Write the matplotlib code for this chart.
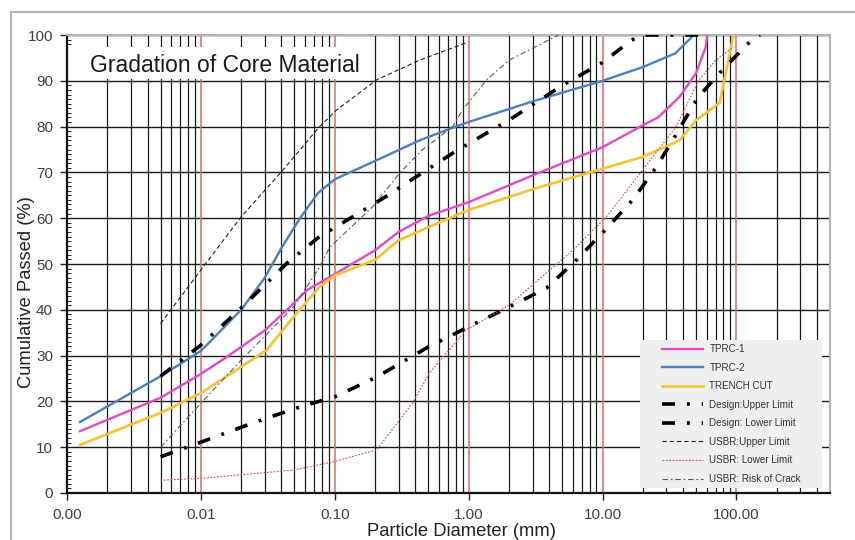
import numpy as np
import matplotlib
matplotlib.use('Agg')
import matplotlib.pyplot as plt
from matplotlib.patches import Rectangle
from matplotlib.ticker import LogLocator, MultipleLocator, NullFormatter

plt.rcParams['font.family'] = ['Liberation Sans', 'DejaVu Sans']

# particle diameter (mm) / cumulative passed (%)
tprc1_d = [0.00125, 0.005, 0.01, 0.0156, 0.03, 0.044, 0.062, 0.1, 0.2, 0.3, 0.5, 1.0, 3.4, 10, 20, 26, 37.6, 50, 59, 60.5]
tprc1_p = [13.5, 20.8, 26.0, 29.7, 35.5, 40.0, 44.3, 47.8, 53.0, 57.0, 60.5, 63.5, 70.0, 75.5, 80.3, 82.0, 86.5, 91.7, 97.4, 100]

tprc2_d = [0.00125, 0.005, 0.01, 0.02, 0.03, 0.04, 0.055, 0.075, 0.1, 0.2, 0.43, 0.8, 1.0, 3.0, 10, 20, 35, 48]
tprc2_p = [15.5, 25.5, 31.0, 40.0, 47.0, 53.5, 60.0, 65.5, 68.5, 72.5, 77.0, 80.0, 81.0, 85.5, 90.0, 93.0, 96.0, 100]

trench_d = [0.00125, 0.005, 0.01, 0.031, 0.049, 0.077, 0.1, 0.2, 0.3, 0.86, 1.0, 3.4, 10, 20, 37.6, 50, 75, 85, 95]
trench_p = [10.5, 17.5, 21.8, 31.2, 38.4, 45.0, 47.5, 50.9, 55.2, 61.0, 61.8, 66.8, 70.8, 73.4, 77.0, 81.4, 85.2, 93.0, 100]

des_up_d = [0.005, 0.01, 0.02, 0.044, 0.077, 0.136, 0.24, 0.45, 0.76, 1.5, 2.0, 5.0, 10, 16.5, 20, 60]
des_up_p = [25.5, 32.3, 40.4, 50.2, 56.0, 60.3, 64.7, 69.9, 74.2, 79.3, 81.4, 89.0, 94.0, 98.9, 100, 100]

des_lo_d = [0.005, 0.01, 0.0245, 0.055, 0.1, 0.205, 0.5, 1.0, 2.0, 3.8, 6.4, 10, 16.8, 25, 36, 51, 81, 131, 150]
des_lo_p = [7.9, 11.1, 15.3, 18.8, 21.0, 25.3, 31.9, 36.3, 40.6, 44.7, 50.9, 56.8, 64.0, 71.0, 78.6, 86.2, 92.8, 99.0, 100]

usbr_up_d = [0.005, 0.01, 0.02, 0.041, 0.077, 0.103, 0.205, 0.43, 0.96]
usbr_up_p = [37.0, 48.7, 60.3, 70.5, 80.0, 83.6, 90.2, 94.5, 98.3]

usbr_lo_d = [0.005, 0.01, 0.049, 0.097, 0.205, 0.38, 0.51, 0.96, 2.0, 6.0, 10.7, 19.9, 35.5, 52, 70, 95]
usbr_lo_p = [2.8, 3.2, 5.0, 6.8, 9.4, 19.6, 26.2, 35.6, 41.0, 53.0, 60.3, 70.5, 80.0, 90.0, 94.5, 97.4]

crack_d = [0.005, 0.01, 0.02, 0.049, 0.077, 0.092, 0.19, 0.306, 0.45, 0.76, 0.9, 1.36, 2.0, 4.7]
crack_p = [10.0, 19.6, 29.0, 40.6, 49.3, 53.7, 62.4, 69.9, 74.9, 80.0, 83.6, 90.2, 94.5, 100]

decades = [0.001, 0.01, 0.1, 1, 10, 100]
decade_labels = ['0.00', '0.01', '0.10', '1.00', '10.00', '100.00']

fig = plt.figure(figsize=(8.55, 5.4), dpi=100)
ax = fig.add_axes([67/855, 1-493/540, (830-67)/855, (493-35)/540])

# outer chart border
fig.patches.append(Rectangle((11/855, -0.02), 0.99, 1.02-12/540, transform=fig.transFigure,
                             fill=False, edgecolor='#b4b4b4', lw=1.5, zorder=0))

ax.set_xscale('log')
ax.set_xlim(0.001, 500)
ax.set_ylim(0, 100)

# grid: black minor verticals, red decade lines, black horizontals
ax.xaxis.set_minor_locator(LogLocator(base=10, subs=np.arange(2, 10), numticks=20))
ax.xaxis.set_minor_formatter(NullFormatter())
ax.set_xticks(decades)
ax.set_xticklabels(decade_labels)
ax.set_yticks(range(0, 101, 10))
ax.yaxis.set_minor_locator(MultipleLocator(1))
ax.grid(which='minor', axis='x', color='#1a1a1a', lw=0.9)
ax.grid(which='major', axis='y', color='#1a1a1a', lw=1.0)
for d in decades[1:]:
    ax.axvline(d, color='#e06a6a', lw=1.1, zorder=1.6)

ax.tick_params(which='major', direction='out', length=5, width=1, labelsize=11,
               labelcolor='#404040', color='#222222', pad=5)
ax.tick_params(which='minor', direction='in', length=3, width=0.7, color='#222222')
ax.tick_params(axis='x', which='major', pad=6)

for s in ['left', 'bottom']:
    ax.spines[s].set_color('#111111')
    ax.spines[s].set_linewidth(1.6)
for s in ['top', 'right']:
    ax.spines[s].set_color('#b4b4b4')
    ax.spines[s].set_linewidth(1.5)

# title box
ax.add_patch(Rectangle((0.001, 90.3), 0.19 - 0.001, 7.1, facecolor='white', edgecolor='none', zorder=2))
ax.text(0.00149, 93.4, 'Gradation of Core Material', fontsize=16.5, color='#1a1a1a',
        ha='left', va='center', zorder=2.5)

ax.plot(tprc1_d, tprc1_p, color='#e24ac6', lw=1.7, label='TPRC-1', zorder=3)
ax.plot(tprc2_d, tprc2_p, color='#4a80bc', lw=1.7, label='TPRC-2', zorder=3)
ax.plot(trench_d, trench_p, color='#f6c232', lw=1.9, label='TRENCH CUT', zorder=3)
ax.plot(des_up_d, des_up_p, color='black', lw=2.6, dashes=(3.6, 3.3, 0.8, 3.3),
        label='Design:Upper Limit', zorder=3)
ax.plot(des_lo_d, des_lo_p, color='black', lw=2.6, dashes=(3.6, 3.3, 0.8, 3.3),
        label='Design: Lower Limit', zorder=3)
ax.plot(usbr_up_d, usbr_up_p, color='#222222', lw=0.8, dashes=(4, 2.5),
        label='USBR:Upper Limit', zorder=3)
ax.plot(usbr_lo_d, usbr_lo_p, color='#d84848', lw=0.8, dashes=(1.5, 1.5),
        label='USBR: Lower Limit', zorder=3)
ax.plot(crack_d, crack_p, color='#5a5a5a', lw=0.8, dashes=(5, 2.5, 1.5, 2.5),
        label='USBR: Risk of Crack', zorder=3)

ax.set_xlabel('Particle Diameter (mm)', fontsize=13.2, color='#222222')
ax.set_ylabel('Cumulative Passed (%)', fontsize=13.2, color='#222222')
ax.xaxis.set_label_coords((461-67)/763, (493-523)/458)
ax.yaxis.set_label_coords((35-67)/763, (493-292)/458)

# legend panel
ax.add_patch(Rectangle((640/855, 1-488/540), 182/855, 148/540, transform=fig.transFigure,
                       facecolor='#efefef', edgecolor='none', zorder=4, clip_on=False))
leg = ax.legend(loc='upper left', bbox_to_anchor=(662/855, 1-344/540), bbox_transform=fig.transFigure,
                frameon=False, fontsize=7.1, handlelength=4.2, handletextpad=0.6,
                labelspacing=0.87, borderpad=0, borderaxespad=0)
leg.set_zorder(5)
for t in leg.get_texts():
    t.set_color('#333333')

fig.savefig('out.png', dpi=100)
